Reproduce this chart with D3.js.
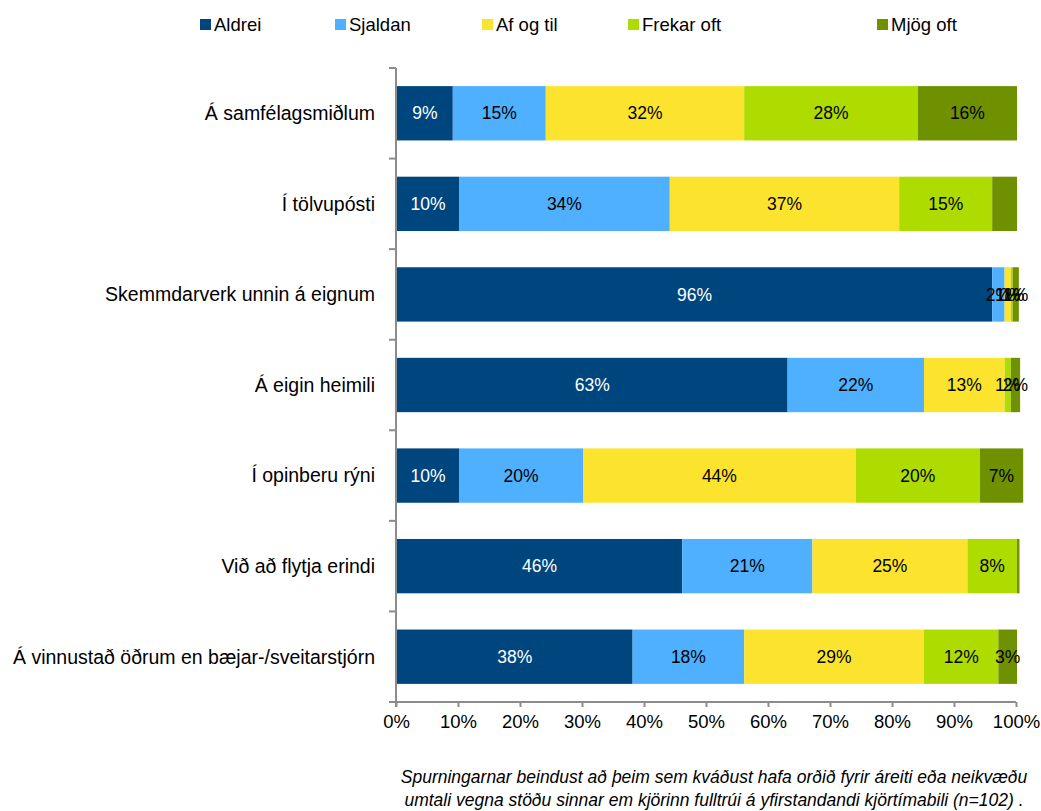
<!DOCTYPE html>
<html>
<head>
  <meta charset="utf-8">
  <script src="https://cdn.jsdelivr.net/npm/d3@7"></script>
  <style>
    body { margin: 0; background: #ffffff; }
    text { font-family: "Liberation Sans", Arial, sans-serif; }
  </style>
</head>
<body>
  <svg id="mainsvg" width="1041" height="811"></svg>
  <script>
    const categories = [
      "Á samfélagsmiðlum",
      "Í tölvupósti",
      "Skemmdarverk unnin á eignum",
      "Á eigin heimili",
      "Í opinberu rýni",
      "Við að flytja erindi",
      "Á vinnustað öðrum en bæjar-/sveitarstjórn"
    ];
    const seriesNames = ["Aldrei", "Sjaldan", "Af og til", "Frekar oft", "Mjög oft"];
    const seriesColors = ["#00467e", "#4fb0ff", "#fce42e", "#aedc00", "#6f9100"];
    // values per series, one entry per category
    const aldrei    = [9, 10, 96, 63, 10, 46, 38];
    const sjaldan   = [15, 34, 2, 22, 20, 21, 18];
    const afOgTil   = [32, 37, 1, 13, 44, 25, 29];
    const frekarOft = [28, 15, 0.3, 1, 20, 8, 12];
    const mjogOft   = [16, 4, 1, 1.5, 7, 0.4, 3];
    // printed labels (null = no label in the original)
    const labelsMjog = ["16%", null, "1%", "2%", "7%", null, "3%"];
    const labelsFrekar = ["28%", "15%", "0%", "1%", "20%", "8%", "12%"];
    const xTicks = [0, 10, 20, 30, 40, 50, 60, 70, 80, 90, 100];
    const footnote = [
      "Spurningarnar beindust að þeim sem kváðust hafa orðið fyrir áreiti eða neikvæðu",
      "umtali vegna stöðu sinnar em kjörinn fulltrúi á yfirstandandi kjörtímabili (n=102)  ."
    ];

    const seriesValues = [aldrei, sjaldan, afOgTil, frekarOft, mjogOft];
    const legendX = [200, 335, 482, 628, 877];

    const svg = d3.select('#mainsvg');
    const margin = { top: 68, left: 396, right: 25, bottom: 109 };
    const width = +svg.attr('width');
    const height = +svg.attr('height');
    const innerWidth = 620;
    const innerHeight = height - margin.top - margin.bottom;

    const xScale = d3.scaleLinear().domain([0, 100]).range([0, innerWidth]);
    const yScale = d3.scaleBand().domain(categories).range([0, innerHeight])
      .paddingInner(0.4).paddingOuter(0.2);

    const g = svg.append('g').attr('transform', `translate(${margin.left}, ${margin.top})`);

    // stacked rows
    const rows = categories.map((c, i) => {
      let acc = 0;
      return seriesValues.map((vals, s) => {
        const seg = { cat: c, s: s, x0: acc, x1: acc + vals[i], v: vals[i] };
        acc += vals[i];
        if (s === 3) seg.label = labelsFrekar[i];
        else if (s === 4) seg.label = labelsMjog[i];
        else seg.label = Math.round(vals[i]) + '%';
        return seg;
      });
    });
    const segs = rows.flat();

    g.selectAll('rect.seg')
      .data(segs)
      .enter()
      .append('rect')
      .attr('class', 'seg')
      .attr('x', d => xScale(d.x0) + 1)
      .attr('y', d => yScale(d.cat))
      .attr('width', d => Math.max(0, xScale(d.x1) - xScale(d.x0)))
      .attr('height', yScale.bandwidth())
      .attr('fill', d => seriesColors[d.s]);

    g.selectAll('text.lbl')
      .data(segs.filter(d => d.label))
      .enter()
      .append('text')
      .attr('class', 'lbl')
      .attr('x', d => xScale((d.x0 + d.x1) / 2) + 1)
      .attr('y', d => yScale(d.cat) + yScale.bandwidth() / 2)
      .attr('dy', '0.35em')
      .attr('text-anchor', 'middle')
      .style('font-size', '17.5px')
      .attr('fill', d => d.s === 0 ? '#ffffff' : '#000000')
      .text(d => d.label);

    // axes
    const xAxis = d3.axisBottom(xScale).tickValues(xTicks).tickSize(5)
      .tickFormat(d => d + '%').tickPadding(8);
    const xg = g.append('g')
      .attr('transform', `translate(0, ${innerHeight})`)
      .call(xAxis);
    xg.select('.domain').attr('d', `M-7,0H${innerWidth}`);
    xg.selectAll('line').attr('stroke', '#8c8c8c').attr('stroke-width', 2);
    xg.select('.domain').attr('stroke', '#8c8c8c').attr('stroke-width', 2);
    xg.selectAll('text').style('font-size', '18.5px').attr('fill', '#000');

    const yg = g.append('g');
    yg.append('line')
      .attr('x1', 0).attr('x2', 0).attr('y1', 0).attr('y2', innerHeight + 5)
      .attr('stroke', '#8c8c8c').attr('stroke-width', 2);
    yg.selectAll('line.tk')
      .data(categories)
      .enter()
      .append('line')
      .attr('class', 'tk')
      .attr('x1', -7).attr('x2', 0)
      .attr('y1', (d, i) => i * innerHeight / categories.length)
      .attr('y2', (d, i) => i * innerHeight / categories.length)
      .attr('stroke', '#8c8c8c').attr('stroke-width', 2);

    yg.selectAll('text.cat')
      .data(categories)
      .enter()
      .append('text')
      .attr('class', 'cat')
      .attr('x', -21)
      .attr('y', d => yScale(d) + yScale.bandwidth() / 2)
      .attr('dy', '0.35em')
      .attr('text-anchor', 'end')
      .style('font-size', '19.5px')
      .text(d => d);

    // legend
    const legend = svg.append('g');
    const items = legend.selectAll('g')
      .data(seriesNames)
      .enter()
      .append('g')
      .attr('transform', (d, i) => `translate(${legendX[i]}, 25)`);
    items.append('rect')
      .attr('x', 0).attr('y', -6).attr('width', 11).attr('height', 11)
      .attr('fill', (d, i) => seriesColors[i]);
    items.append('text')
      .attr('x', 14).attr('y', 0).attr('dy', '0.35em')
      .style('font-size', '18.5px')
      .text(d => d);

    // footnote
    svg.selectAll('text.foot')
      .data(footnote)
      .enter()
      .append('text')
      .attr('class', 'foot')
      .attr('x', 714)
      .attr('y', (d, i) => 783 + i * 23)
      .attr('text-anchor', 'middle')
      .style('font-size', '17.5px')
      .style('font-style', 'italic')
      .text(d => d);
  </script>
</body>
</html>
